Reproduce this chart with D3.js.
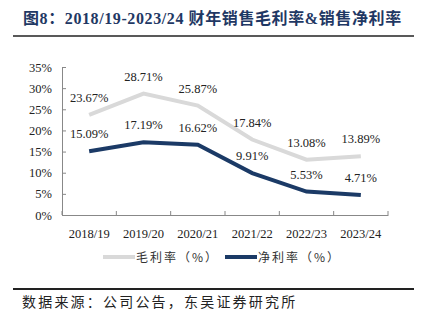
<!DOCTYPE html>
<html><head><meta charset="utf-8">
<script src="https://cdn.jsdelivr.net/npm/d3@7/dist/d3.min.js"></script>
<style>body{margin:0;background:#fff}svg{display:block}</style>
</head><body><svg id="c" width="421" height="327"></svg>
<script>
const categories = ["2018/19","2019/20","2020/21","2021/22","2022/23","2023/24"];
const grossMargin = [23.67,28.71,25.87,17.84,13.08,13.89];
const netMargin = [15.09,17.19,16.62,9.91,5.53,4.71];
const yTicks = [0,5,10,15,20,25,30,35];
const seriesNames = ["毛利率（%）","净利率（%）"];
const colors = ["#D9D9D9","#1B3A66"];

const svg = d3.select("#c");
const serif = "'Liberation Serif','Times New Roman',serif";
const cjk = "'Noto Sans CJK SC',sans-serif";

svg.append("text").attr("x",23).attr("y",24).attr("font-family",serif+","+cjk)
  .attr("font-size",16).attr("font-weight","bold").attr("fill","#1F3864")
  .attr("letter-spacing",0.6)
  .text("图8：2018/19-2023/24 财年销售毛利率&销售净利率");
svg.append("line").attr("x1",13).attr("x2",414).attr("y1",36).attr("y2",36)
  .attr("stroke","#222").attr("stroke-width",1.5);

const x = d3.scaleBand().domain(categories).range([62,388]);
const y = d3.scaleLinear().domain([0,35]).range([215,67]);

const gy = svg.append("g").attr("transform","translate(62,0)")
  .call(d3.axisLeft(y).tickValues(yTicks).tickFormat(d=>d+"%").tickSizeInner(-4).tickSizeOuter(0).tickPadding(10));
const gx = svg.append("g").attr("transform","translate(0,215)")
  .call(d3.axisBottom(x).tickSize(0).tickPadding(14));
[gy,gx].forEach(g=>{
  g.selectAll("path,line").attr("stroke","#888");
  g.selectAll("text").attr("font-family",serif).attr("font-size",12.5).attr("fill","#222");
});
const bounds = categories.map(c=>x(c)).concat([x.range()[1]]);
svg.append("g").selectAll("line").data(bounds).join("line")
  .attr("x1",d=>d).attr("x2",d=>d).attr("y1",215).attr("y2",211).attr("stroke","#888");

const cx = c=>x(c)+x.bandwidth()/2;
[grossMargin,netMargin].forEach((vals,i)=>{
  const line = d3.line().x((d,j)=>cx(categories[j])).y(d=>y(d));
  svg.append("path").datum(vals).attr("d",line).attr("fill","none")
    .attr("stroke",colors[i]).attr("stroke-width",4);
  svg.append("g").selectAll("text").data(vals).join("text")
    .attr("x",(d,j)=>cx(categories[j])).attr("y",d=>y(d)-13)
    .attr("text-anchor","middle").attr("font-family",serif).attr("font-size",12.5).attr("fill","#222")
    .text(d=>d.toFixed(2)+"%");
});

const lg = [{x1:103,x2:135},{x1:225,x2:257}];
seriesNames.forEach((n,i)=>{
  svg.append("line").attr("x1",lg[i].x1).attr("x2",lg[i].x2).attr("y1",257).attr("y2",257)
    .attr("stroke",colors[i]).attr("stroke-width",4);
  svg.append("text").attr("x",lg[i].x2+1).attr("y",261.5).attr("font-family",cjk)
    .attr("font-size",12).attr("letter-spacing",2).attr("fill","#333").text(n);
});

svg.append("line").attr("x1",13).attr("x2",414).attr("y1",289).attr("y2",289)
  .attr("stroke","#222").attr("stroke-width",2);
svg.append("text").attr("x",22).attr("y",307).attr("font-family",cjk)
  .attr("font-size",14).attr("letter-spacing",2.2).attr("fill","#222").text("数据来源：公司公告，东吴证券研究所");
</script></body></html>
